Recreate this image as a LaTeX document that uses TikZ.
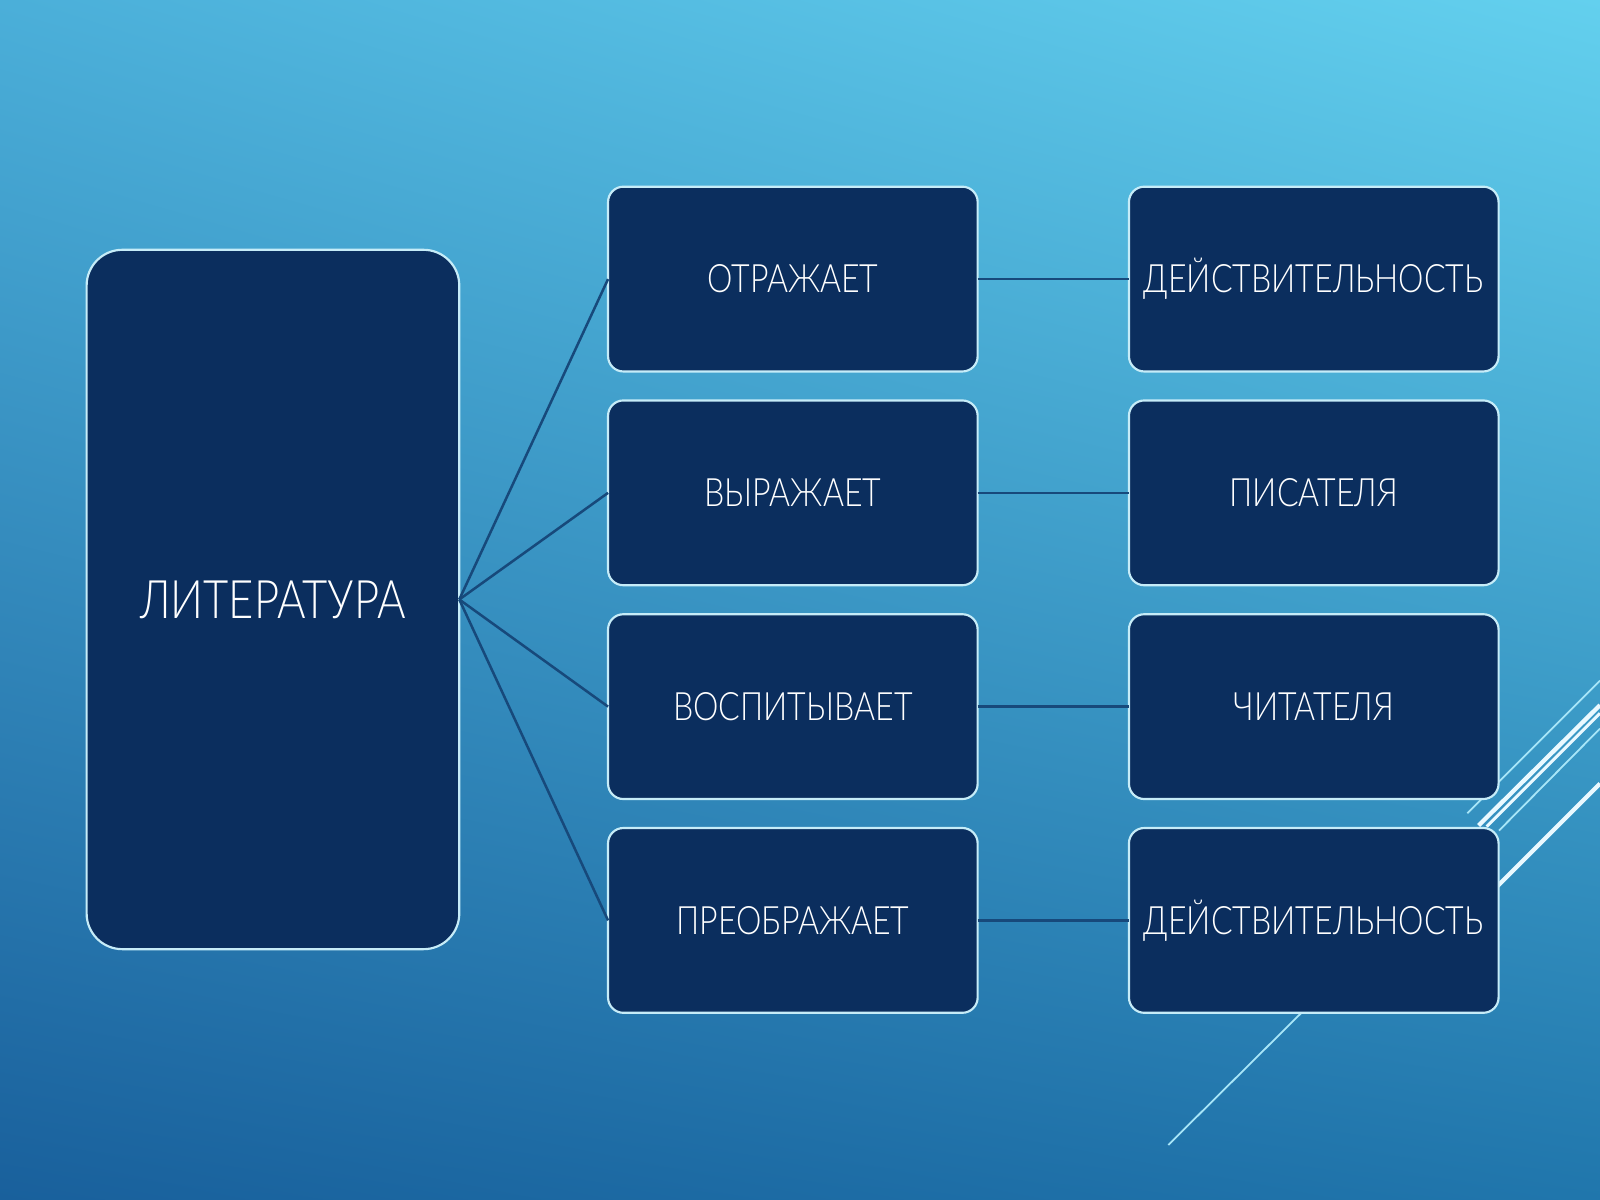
\documentclass[tikz,border=0pt]{standalone}
\usepackage{fontspec}
\setmainfont{Lato Light}[FakeStretch=0.82]
\usetikzlibrary{shadings}
\definecolor{fundoUL}{HTML}{4BAFD9}
\definecolor{fundoUR}{HTML}{63D0EE}
\definecolor{fundoLL}{HTML}{19609C}
\definecolor{fundoLR}{HTML}{2076AC}
\definecolor{azulescuro}{HTML}{0B2E5E}
\definecolor{borda}{HTML}{C6ECF8}
\definecolor{linha}{HTML}{17497B}
\definecolor{claro}{HTML}{A8E6F8}
\definecolor{branco}{HTML}{EAF9FF}
\begin{document}
\begin{tikzpicture}[x=0.01cm, y=-0.01cm,
    caixa/.style={draw=borda, line width=0.6pt, fill=azulescuro, rounded corners=0.15cm,
        minimum width=3.62cm, minimum height=1.81cm, inner sep=0pt, outer sep=0pt,
        text=white, font=\fontsize{10.9}{12}\selectfont},
    ligacao/.style={draw=linha, line width=0.7pt}]
% Фон
\shade[upper left=fundoUL, upper right=fundoUR, lower left=fundoLL, lower right=fundoLR]
    (0,0) rectangle (1568,1176);
\useasboundingbox (0,0) rectangle (1568,1176);
% Линии справа
\draw[claro, line width=0.5pt] (1438,797) -- (1568,667);
\draw[branco, line width=1.2pt] (1449,809) -- (1568,691);
\draw[branco, line width=0.8pt] (1457,810) -- (1568,699);
\draw[claro, line width=0.5pt] (1469,814) -- (1568,714);
\draw[branco, line width=1.2pt] (1462,874) -- (1568,768);
\draw[claro, line width=0.5pt] (1145,1122) -- (1280,988);
% Литература
\node[caixa, minimum width=3.65cm, minimum height=6.85cm, rounded corners=0.35cm,
    font=\fontsize{14.8}{16}\selectfont] (L) at (267.5,587.5) {ЛИТЕРАТУРА};
% Глаголы
\foreach \t [count=\i] in {ОТРАЖАЕТ,ВЫРАЖАЕТ,ВОСПИТЫВАЕТ,ПРЕОБРАЖАЕТ}
    \node[caixa] (M\i) at (777,{273.5+(\i-1)*209.5}) {\t};
% Объекты
\foreach \t [count=\i] in {ДЕЙСТВИТЕЛЬНОСТЬ,ПИСАТЕЛЯ,ЧИТАТЕЛЯ,ДЕЙСТВИТЕЛЬНОСТЬ}
    \node[caixa] (R\i) at (1287.5,{273.5+(\i-1)*209.5}) {\t};
% Связи
\foreach \i in {1,...,4} {
    \draw[ligacao] (L.east) -- (M\i.west);
    \draw[ligacao] (M\i.east) -- (R\i.west);
}
\end{tikzpicture}
\end{document}
